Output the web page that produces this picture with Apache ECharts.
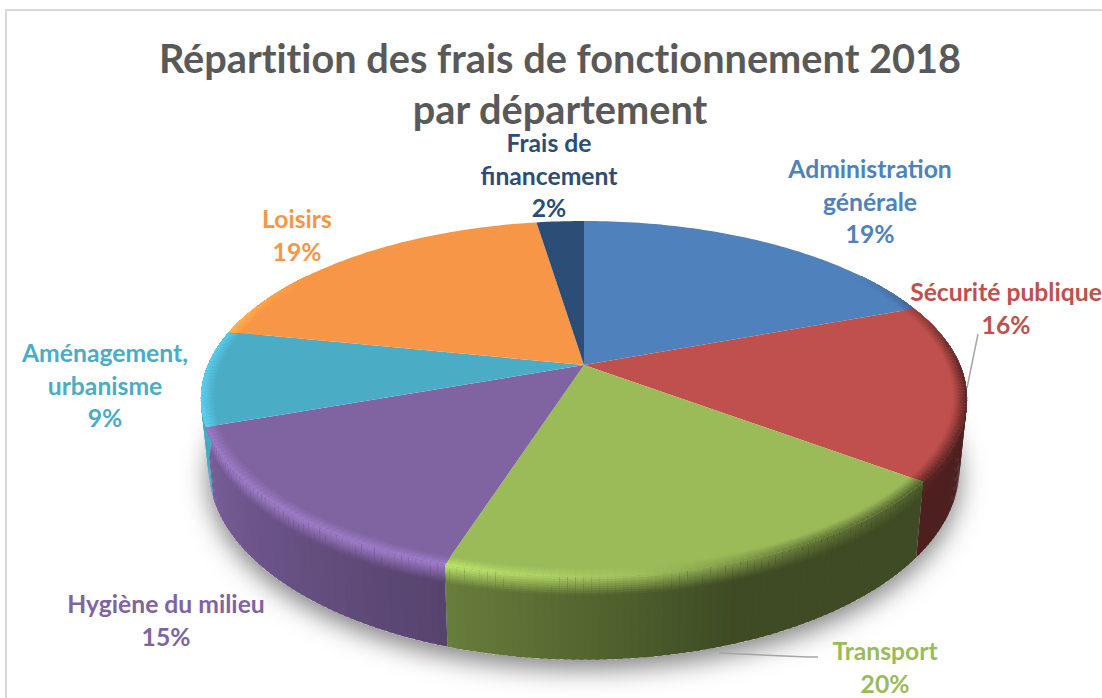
<!DOCTYPE html>
<html>
<head>
<meta charset="utf-8">
<title>Frais de fonctionnement 2018</title>
<style>
html, body { margin: 0; padding: 0; background: #fff; }
#main { width: 1102px; height: 698px; }
#main text { font-variant-ligatures: none; }
</style>
<script src="https://cdn.jsdelivr.net/npm/echarts@6/dist/echarts.min.js"></script>
</head>
<body>
<div id="main"></div>
<script>
var titleText = 'Répartition des frais de fonctionnement 2018\npar département';
var categories = ['Administration\ngénérale', 'Sécurité publique', 'Transport', 'Hygiène du milieu', 'Aménagement,\nurbanisme', 'Loisirs', 'Frais de\nfinancement'];
var values = [19.3, 16.0, 19.6, 14.6, 8.7, 19.4, 2.4];
var colors = ['#4f81bd', '#c0504d', '#9bbb59', '#8064a2', '#4bacc6', '#f79646', '#2c4d75'];

// label centres and leader lines, same order as categories
var labelPos = [[870, 201], [1006, 308], [885, 667], [166, 620], [105, 385], [297, 235], [549, 175]];
var leaders = [
    [[978, 334], [967, 388]],
    [[719, 653], [807, 657], [818, 657]]
];

// tilted, perspective view of the pie
var cx = 584, cy = 365, R = 376, Ry = 171.5, persp = 0.191, depth = 67, taper = 0.02;
var step = 1, bands = 8;
var total = values.reduce(function (a, b) { return a + b; }, 0);

function project(deg, r, l) {
    var t = deg * Math.PI / 180;
    var s = 1 / (1 + persp * r * Math.cos(t));
    return [
        cx + R * r * Math.sin(t) * s * (1 - taper * l),
        cy - Ry * r * Math.cos(t) * s + depth * l * s
    ];
}

function sliceAngles(i) {
    var sum = 0;
    for (var k = 0; k < i; k++) sum += values[k];
    return [sum / total * 360, (sum + values[i]) / total * 360];
}

function interp(table, deg) {
    if (deg <= table[0][0]) return table[0][1];
    for (var i = 1; i < table.length; i++) {
        if (deg <= table[i][0]) {
            var a = table[i - 1], b = table[i];
            return a[1] + (b[1] - a[1]) * (deg - a[0]) / (b[0] - a[0]);
        }
    }
    return table[table.length - 1][1];
}

// brightness of the side wall and of the rounded rim, by angle
var wallLight = [[60, 0.4], [160, 0.4], [198, 0.68], [250, 0.95], [285, 1.05]];
var rimLight = [[55, 1], [90, 0.45], [126, 0.5], [150, 0.65], [172, 1.02], [198, 1.24], [240, 1.24], [285, 1.18], [305, 1]];

function rgb(hex) {
    return [parseInt(hex.substr(1, 2), 16), parseInt(hex.substr(3, 2), 16), parseInt(hex.substr(5, 2), 16)];
}
function shade(c, f) {
    return [Math.min(255, c[0] * f), Math.min(255, c[1] * f), Math.min(255, c[2] * f)];
}
function mix(a, b, t) {
    return [a[0] + (b[0] - a[0]) * t, a[1] + (b[1] - a[1]) * t, a[2] + (b[2] - a[2]) * t];
}
function css(c) {
    return 'rgb(' + Math.round(c[0]) + ',' + Math.round(c[1]) + ',' + Math.round(c[2]) + ')';
}

// strips overlap the next one, painted in order, so no seams show
function strip(a0, a1, r0, l0, r1, l1, color) {
    return {
        type: 'polygon',
        shape: { points: [project(a0, r0, l0), project(a1, r0, l0), project(a1, r1, l1), project(a0, r1, l1)] },
        style: { fill: color },
        silent: true
    };
}

function renderShadow() {
    var pts = [];
    for (var d = 0; d < 360; d += 3) pts.push(project(d, 1, 1));
    return {
        type: 'polygon',
        shape: { points: pts },
        style: { fill: '#fff', shadowBlur: 26, shadowColor: 'rgba(0,0,0,0.5)', shadowOffsetY: 9 },
        silent: true
    };
}

function renderWall(params) {
    var i = params.dataIndex;
    var ang = sliceAngles(i);
    var from = Math.max(ang[0], 70), to = Math.min(ang[1], 292);
    var base = rgb(colors[i]);
    var children = [];
    for (var d = from; d < to; d += step) {
        var e = Math.min(d + step * 1.5, to);
        var wall = shade(base, interp(wallLight, d));
        var rim = shade(base, interp(rimLight, d));
        children.push(strip(d, e, 1, 0, 1, 1, css(wall)));
        for (var b = bands - 1; b >= 0; b--) {
            children.push(strip(d, e, 1, 0, 1, 0.22 * (b + 1) / bands, css(mix(rim, wall, (b + 0.5) / bands))));
        }
    }
    return { type: 'group', children: children };
}

function renderTop(params) {
    var i = params.dataIndex;
    var ang = sliceAngles(i);
    var base = rgb(colors[i]);
    var pts = [[cx, cy]];
    for (var d = ang[0]; d < ang[1]; d += step) pts.push(project(d, 1, 0));
    pts.push(project(ang[1], 1, 0));
    var children = [{
        type: 'polygon',
        shape: { points: pts },
        style: { fill: colors[i] },
        silent: true
    }];
    // soft rim towards the edge of the top face
    var from = Math.max(ang[0], 55), to = Math.min(ang[1], 305);
    for (var a = from; a < to; a += step) {
        var e = Math.min(a + step * 1.5, to);
        var rim = shade(base, interp(rimLight, a));
        for (var b = 0; b < bands; b++) {
            var r0 = 0.965 + 0.035 * b / bands;
            children.push(strip(a, e, r0, 0, 1, 0, css(mix(base, rim, (b + 0.5) / bands))));
        }
    }
    return { type: 'group', children: children };
}

function renderLabel(params, api) {
    var i = params.dataIndex;
    var pct = Math.round(api.value(0) / total * 100);
    return {
        type: 'text',
        x: labelPos[i][0],
        y: labelPos[i][1],
        style: {
            text: categories[i] + '\n' + pct + '%',
            fill: colors[i],
            font: 'bold 24.7px Lato',
            lineHeight: 32.5,
            align: 'center',
            verticalAlign: 'middle'
        },
        silent: true
    };
}

var graphics = [{
    type: 'polyline',
    shape: { points: [[6, 698], [6, 10], [1102, 10]] },
    style: { stroke: '#d9d9d9', lineWidth: 2, fill: null },
    silent: true
}];
leaders.forEach(function (pts) {
    graphics.push({
        type: 'polyline',
        z: 20,
        shape: { points: pts },
        style: { stroke: '#a6a6a6', lineWidth: 1.5, fill: null },
        silent: true
    });
});

var myChart = echarts.init(document.getElementById('main'), null, { renderer: 'svg' });
var option = {
    animation: false,
    backgroundColor: '#fff',
    title: {
        text: titleText,
        left: 555,
        top: 27,
        textAlign: 'center',
        textStyle: {
            color: '#595959',
            fontFamily: 'Lato',
            fontWeight: 'bold',
            fontSize: 39.7,
            lineHeight: 51
        }
    },
    graphic: graphics,
    series: [
        { type: 'custom', coordinateSystem: 'none', z: 1, data: [1], renderItem: renderShadow },
        { type: 'custom', coordinateSystem: 'none', z: 2, data: values, renderItem: renderWall },
        { type: 'custom', coordinateSystem: 'none', z: 3, data: values, renderItem: renderTop },
        { type: 'custom', coordinateSystem: 'none', z: 10, data: values, renderItem: renderLabel }
    ]
};
myChart.setOption(option);
</script>
</body>
</html>
